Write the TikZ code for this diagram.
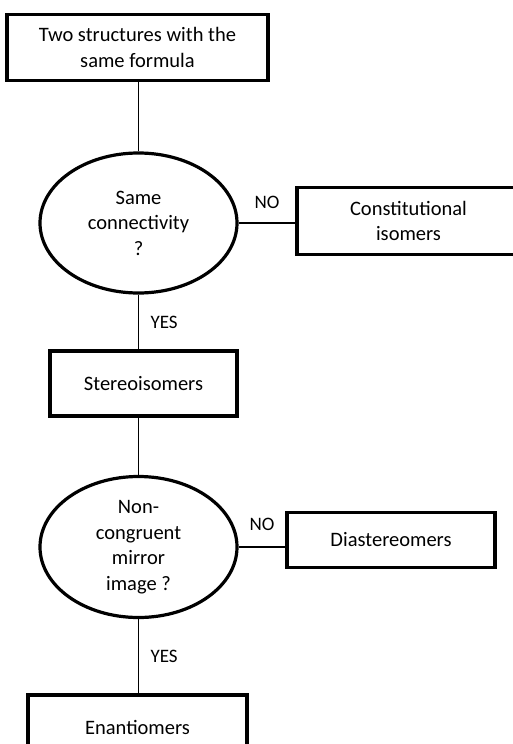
\documentclass[tikz,border=0pt]{standalone}
\usepackage{fontspec}
\setmainfont{Carlito}
\usetikzlibrary{shapes.geometric}
\tikzstyle{stepbox} = [
    draw=black,
    line width=3.2pt,
    rectangle,
    align=center,
    inner sep=0pt
    ]
\tikzstyle{question} = [
    draw=black,
    line width=3.2pt,
    ellipse,
    align=center,
    inner sep=0pt,
    minimum width=197pt,
    minimum height=140pt
    ]
\tikzstyle{link} = [line width=1.6pt]
\tikzstyle{answer} = [font=\fontsize{19}{22}\selectfont]

\begin{document}
\begin{tikzpicture}[x=1pt, y=-1pt, font=\fontsize{20.5}{25.5}\selectfont]
\useasboundingbox (0,0) rectangle (513,744);
\clip (0,0) rectangle (513,744);
% boxes and questions
\node [stepbox, minimum width=261pt, minimum height=66pt] (formula) at (137.5,47.5)
    {Two structures with the\\same formula};
\node [question] (connect) at (138.5,223) {Same\\connectivity\\?};
\node [stepbox, minimum width=223pt, minimum height=67pt] (constit) at (408.5,221)
    {Constitutional\\isomers};
\node [stepbox, minimum width=187pt, minimum height=65pt] (stereo) at (143.5,383.5)
    {Stereoisomers};
\node [question, minimum height=141pt] (mirror) at (138.5,547) {Non-\\congruent\\mirror\\image ?};
\node [stepbox, minimum width=208pt, minimum height=55pt] (diast) at (391,540)
    {Diastereomers};
\node [stepbox, minimum width=219pt, minimum height=64pt] (enant) at (137.5,727)
    {Enantiomers};
% connectors
\draw [link] (formula.south -| connect.north) -- (connect.north);
\draw [link] (connect.east) -- (connect.east -| constit.west)
    node [answer, midway, above=10pt] (no1) {NO};
\draw [link] (connect.south) -- (connect.south |- stereo.north)
    node [answer, midway, right=8pt] (yes1) {YES};
\draw [link] (stereo.south -| mirror.north) -- (mirror.north);
\draw [link] (mirror.east) -- (mirror.east -| diast.west)
    node [answer, midway, above=12pt] (no2) {NO};
\draw [link] (mirror.south) -- (mirror.south |- enant.north)
    node [answer, midway, right=8pt] (yes2) {YES};
\end{tikzpicture}
\end{document}
